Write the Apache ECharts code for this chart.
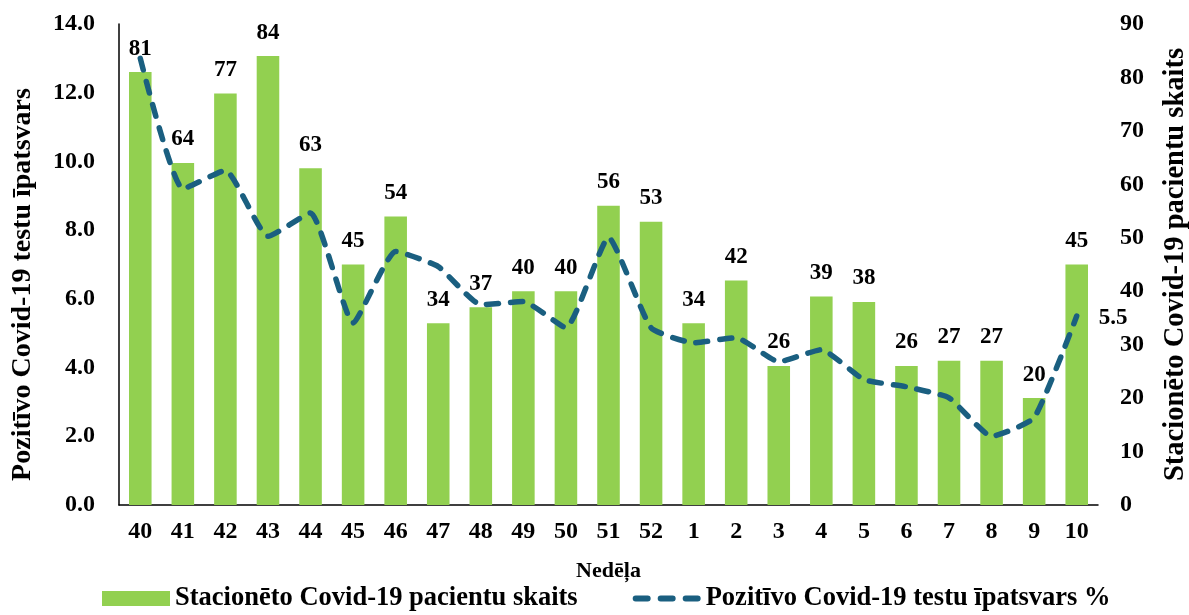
<!DOCTYPE html>
<html><head><meta charset="utf-8">
<script src="https://cdn.jsdelivr.net/npm/echarts@6/dist/echarts.min.js"></script>
<style>html,body{margin:0;padding:0;background:#fff}#c{width:1189px;height:615px}</style>
</head><body><div id="c"></div>
<script>
const weeks = ['40','41','42','43','44','45','46','47','48','49','50','51','52','1','2','3','4','5','6','7','8','9','10'];
const patients = [81,64,77,84,63,45,54,34,37,40,40,56,53,34,42,26,39,38,26,27,27,20,45];
const positiveShare = [13.0,9.2,9.74,7.82,8.5,5.3,7.38,6.94,5.83,5.92,5.16,7.79,5.16,4.72,4.87,4.17,4.52,3.65,3.44,3.12,2.0,2.54,5.5];
const leftTicks = [0,2,4,6,8,10,12,14];
const rightTicks = [0,10,20,30,40,50,60,70,80,90];

const FONT = '"Liberation Serif", "Times New Roman", serif';
const LINE_COLOR = '#1a5f80';
const chart = echarts.init(document.getElementById('c'), null, {renderer:'canvas'});
chart.setOption({
  animation:false,
  textStyle:{fontFamily:FONT},
  grid:{left:119, right:91, top:24, bottom:110, containLabel:false, outerBoundsMode:'none'},
  legend:{
    bottom:-2, left:97, itemGap:55, itemWidth:68, itemHeight:15,
    textStyle:{fontFamily:FONT, fontWeight:'bold', fontSize:26.5, color:'#000'},
    data:[
      {name:'Stacionēto Covid-19 pacientu skaits', icon:'rect'},
      {name:'Pozitīvo Covid-19 testu īpatsvars %',
       icon:'path://M3,5h12a3,3 0 0 1 0,6h-12a3,3 0 0 1 0,-6z M28,5h12a3,3 0 0 1 0,6h-12a3,3 0 0 1 0,-6z M53,5h12a3,3 0 0 1 0,6h-12a3,3 0 0 1 0,-6z',
       itemStyle:{color:LINE_COLOR}}
    ]
  },
  xAxis:{
    type:'category', data:weeks,
    name:'Nedēļa', nameLocation:'middle', nameGap:55,
    nameTextStyle:{fontFamily:FONT, fontWeight:'bold', fontSize:22, color:'#000'},
    axisLine:{lineStyle:{color:'#000', width:1.5}},
    axisTick:{show:false},
    axisLabel:{fontFamily:FONT, fontWeight:'bold', fontSize:24, color:'#000', margin:15}
  },
  yAxis:[
    {
      type:'value', min:0, max:14, interval:2, position:'left',
      name:'Pozitīvo Covid-19 testu īpatsvars', nameLocation:'middle', nameGap:82,
      nameTextStyle:{fontFamily:FONT, fontWeight:'bold', fontSize:28, color:'#000', padding:[0,40,0,0]},
      axisLine:{show:true, lineStyle:{color:'#000', width:1.5}},
      axisTick:{show:false}, splitLine:{show:false},
      axisLabel:{fontFamily:FONT, fontWeight:'bold', fontSize:24, color:'#000', margin:24,
        formatter:v => leftTicks.includes(v) ? v.toFixed(1) : ''}
    },
    {
      type:'value', min:0, max:90, interval:10, position:'right',
      name:'Stacionēto Covid-19 pacientu skaits', nameLocation:'middle', nameGap:63,
      nameTextStyle:{fontFamily:FONT, fontWeight:'bold', fontSize:28.5, color:'#000'},
      axisLine:{show:false}, axisTick:{show:false}, splitLine:{show:false},
      axisLabel:{fontFamily:FONT, fontWeight:'bold', fontSize:24, color:'#000', margin:22,
        formatter:v => rightTicks.includes(v) ? String(v) : ''}
    }
  ],
  series:[
    {
      name:'Stacionēto Covid-19 pacientu skaits', type:'bar', yAxisIndex:1,
      data:patients, barWidth:'53%',
      itemStyle:{color:'#92d050'},
      label:{show:true, position:'top', distance:12, fontFamily:FONT, fontWeight:'bold', fontSize:23, color:'#000'}
    },
    {
      name:'Pozitīvo Covid-19 testu īpatsvars %', type:'line', yAxisIndex:0,
      data:positiveShare.map((v,i)=> i===positiveShare.length-1
        ? {value:v, label:{show:true, position:'right', distance:22, offset:[0,2], formatter:v.toFixed(1),
            fontFamily:FONT, fontWeight:'bold', fontSize:23, color:'#000'}}
        : v),
      smooth:0.15, symbol:'circle', symbolSize:0, showSymbol:true,
      lineStyle:{color:LINE_COLOR, width:5.5, type:[12,12], cap:'round'},
      itemStyle:{color:LINE_COLOR},
      z:5
    }
  ]
});
</script></body></html>
